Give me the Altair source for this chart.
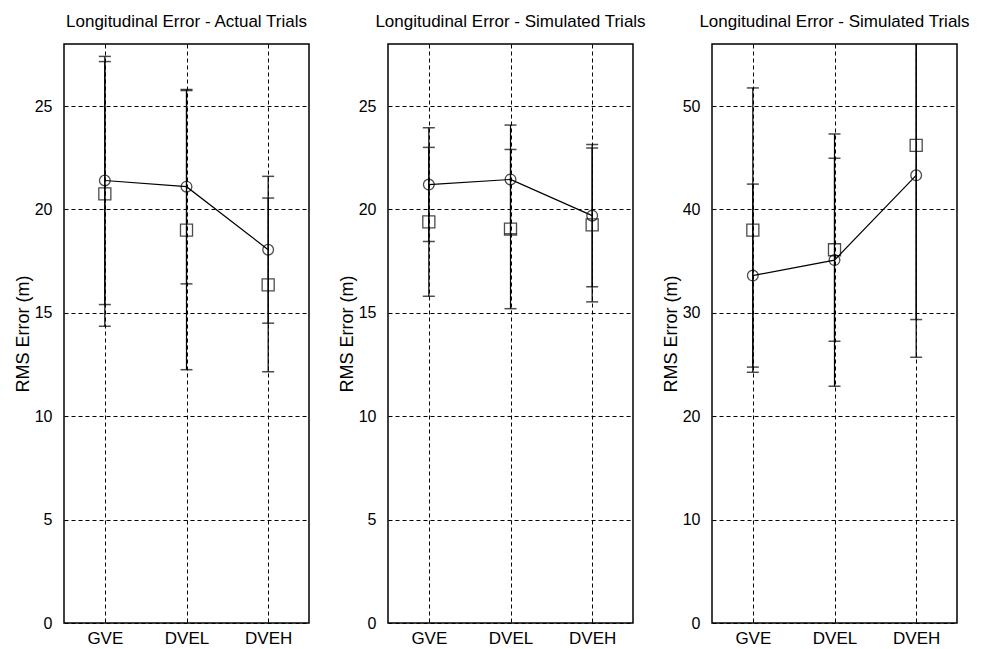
import altair as alt
import pandas as pd

categories = ["GVE", "DVEL", "DVEH"]

titles = [
    "Longitudinal Error - Actual Trials",
    "Longitudinal Error - Simulated Trials",
    "Longitudinal Error - Simulated Trials",
]

# circles (connected by a line) and their error half-widths
circle_vals = [
    [21.4, 21.1, 18.05],
    [21.2, 21.45, 19.7],
    [33.6, 35.1, 43.3],
]
circle_errs = [
    [6.0, 4.7, 3.55],
    [2.75, 2.63, 3.44],
    [8.85, 12.2, 17.6],
]
# squares (unconnected) and their error half-widths
square_vals = [
    [20.75, 19.0, 16.35],
    [19.4, 19.05, 19.25],
    [38.0, 36.1, 46.2],
]
square_errs = [
    [6.4, 6.75, 4.2],
    [3.6, 3.85, 3.72],
    [13.75, 8.85, 16.85],
]

y_max = [28, 28, 56]
y_ticks = [
    [0, 5, 10, 15, 20, 25],
    [0, 5, 10, 15, 20, 25],
    [0, 10, 20, 30, 40, 50],
]

FONT = "Liberation Sans"


def panel(i):
    rows = []
    for j, c in enumerate(categories):
        rows.append({"cat": c, "series": "circle", "v": circle_vals[i][j],
                     "lo": circle_vals[i][j] - circle_errs[i][j],
                     "hi": circle_vals[i][j] + circle_errs[i][j]})
        rows.append({"cat": c, "series": "square", "v": square_vals[i][j],
                     "lo": square_vals[i][j] - square_errs[i][j],
                     "hi": square_vals[i][j] + square_errs[i][j]})
    df = pd.DataFrame(rows)

    x = alt.X("cat:N", sort=categories, title=None,
              scale=alt.Scale(type="point", padding=0.5),
              axis=alt.Axis(labelAngle=0, labelFontSize=17, labelPadding=7,
                            grid=True, ticks=False, domain=False))
    yscale = alt.Scale(domain=[0, y_max[i]], nice=False, zero=True)
    yaxis = alt.Axis(values=y_ticks[i], title="RMS Error (m)", titleFontSize=18,
                     titleFontWeight="normal", titlePadding=2,
                     labelFontSize=16, labelPadding=12, grid=True, ticks=False,
                     domain=False)

    base = alt.Chart(df)
    rules = base.mark_rule(color="black", strokeWidth=1.2, clip=True).encode(
        x=x, y=alt.Y("lo:Q", scale=yscale, axis=yaxis), y2="hi:Q")
    caps_hi = base.mark_tick(color="black", size=12, thickness=1.5, clip=True).encode(
        x=x, y=alt.Y("hi:Q", scale=yscale))
    caps_lo = base.mark_tick(color="black", size=12, thickness=1.5, clip=True).encode(
        x=x, y=alt.Y("lo:Q", scale=yscale))
    line = base.transform_filter(alt.datum.series == "circle").mark_line(
        color="black", strokeWidth=1.2).encode(
        x=x, y=alt.Y("v:Q", scale=yscale), order=alt.Order("idx:Q")
    ).transform_calculate(idx="indexof(['GVE','DVEL','DVEH'], datum.cat)")
    circles = base.transform_filter(alt.datum.series == "circle").mark_point(
        shape="circle", size=115, color="black", filled=False, strokeWidth=1.3).encode(
        x=x, y=alt.Y("v:Q", scale=yscale))
    squares = base.transform_filter(alt.datum.series == "square").mark_point(
        shape="square", size=145, color="black", filled=False, strokeWidth=1.3).encode(
        x=x, y=alt.Y("v:Q", scale=yscale))

    return alt.layer(rules, caps_hi, caps_lo, line, circles, squares).properties(
        width=245, height=579,
        title=alt.TitleParams(titles[i], fontSize=17, font=FONT, fontWeight="normal",
                              anchor="middle", offset=13, color="black"))


chart = alt.hconcat(panel(0), panel(1), panel(2), spacing=79, bounds="flush").properties(
    padding={"left": 5, "top": 4, "right": 0, "bottom": 0}
).configure(
    font=FONT, background="white"
).configure_view(
    stroke="black", strokeWidth=1.5
).configure_axis(
    gridColor="black", gridDash=[4, 3], gridWidth=1, gridOpacity=1,
    labelColor="black", titleColor="black", labelFont=FONT, titleFont=FONT
).configure_concat(spacing=79)

chart.save("out.html", embed_options={"renderer": "svg", "actions": False})
